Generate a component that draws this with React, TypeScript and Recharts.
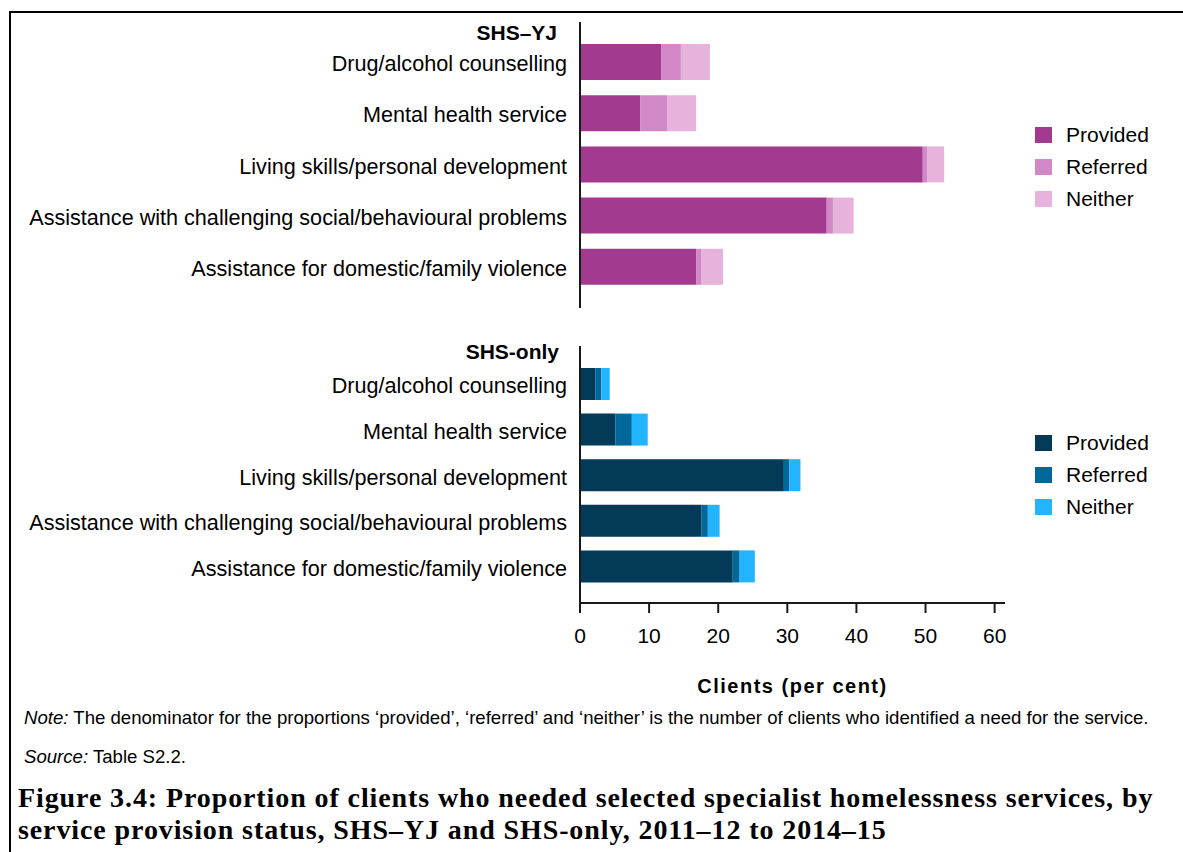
import { Bar, BarChart, Label, XAxis, YAxis } from 'recharts'

const categories = [
  'Drug/alcohol counselling',
  'Mental health service',
  'Living skills/personal development',
  'Assistance with challenging social/behavioural problems',
  'Assistance for domestic/family violence',
]

// SHS–YJ clients (per cent)
const yjProvided = [11.8, 8.7, 49.6, 35.7, 16.8]
const yjReferred = [2.8, 3.9, 0.7, 0.9, 0.8]
const yjNeither = [4.2, 4.2, 2.4, 3.0, 3.1]

// SHS-only clients (per cent)
const onlyProvided = [2.2, 5.1, 29.5, 17.6, 22.1]
const onlyReferred = [0.9, 2.4, 0.8, 0.9, 1.0]
const onlyNeither = [1.2, 2.3, 1.6, 1.7, 2.2]

const seriesKeys = ['provided', 'referred', 'neither']
const seriesNames = ['Provided', 'Referred', 'Neither']
const yjColors = ['#a23a8f', '#d288c6', '#e7b3dd']
const onlyColors = ['#023a57', '#02679b', '#22b4ff']
const xTicks = [0, 10, 20, 30, 40, 50, 60]

const FONT = '"Liberation Sans", Arial, sans-serif'

function buildRows(p: number[], r: number[], n: number[]) {
  return categories.map((name, i) => ({ name, provided: p[i], referred: r[i], neither: n[i] }))
}

const yjRows = buildRows(yjProvided, yjReferred, yjNeither)
const onlyRows = buildRows(onlyProvided, onlyReferred, onlyNeither)

function LegendBox({ colors, top }: { colors: string[]; top: number }) {
  return (
    <div style={{ position: 'absolute', left: 1035, top, fontFamily: FONT, fontSize: 21 }}>
      {seriesNames.map((name, i) => (
        <div key={name} style={{ display: 'flex', alignItems: 'center', height: 32 }}>
          <span style={{ width: 17, height: 16, background: colors[i], display: 'inline-block' }} />
          <span style={{ marginLeft: 14, color: '#000' }}>{name}</span>
        </div>
      ))}
    </div>
  )
}

const axisLine = { stroke: '#1a1a1a', strokeWidth: 2 }
const catTick = { fill: '#000', fontSize: 21.6, fontFamily: FONT, dy: 2 }
const numTick = { fill: '#000', fontSize: 21, fontFamily: FONT }

export default function App() {
  return (
    <div
      style={{
        position: 'absolute',
        left: 0,
        top: 0,
        width: 1183,
        height: 852,
        background: '#fff',
        overflow: 'hidden',
        fontFamily: FONT,
      }}
    >
      <div
        style={{
          position: 'absolute',
          left: 9,
          top: 11,
          width: 1200,
          height: 900,
          borderTop: '2px solid #000',
          borderLeft: '2px solid #000',
        }}
      />

      <div style={{ position: 'absolute', right: 626, top: 21, fontSize: 21, fontWeight: 'bold', lineHeight: '24px' }}>
        SHS–YJ
      </div>
      <div style={{ position: 'absolute', right: 624, top: 340, fontSize: 21, fontWeight: 'bold', lineHeight: '24px' }}>
        SHS-only
      </div>

      <div style={{ position: 'absolute', left: 0, top: 0 }}>
        <BarChart
          width={1183}
          height={320}
          data={yjRows}
          layout="vertical"
          margin={{ top: 22, right: 178, bottom: 12, left: 0 }}
          barSize={36}
        >
          <XAxis type="number" domain={[0, 61.5]} hide />
          <YAxis
            type="category"
            dataKey="name"
            width={580}
            padding={{ top: 14, bottom: 16 }}
            interval={0}
            tickLine={false}
            tickSize={0}
            tickMargin={13}
            axisLine={axisLine}
            tick={catTick}
          />
          {seriesKeys.map((k, i) => (
            <Bar key={k} dataKey={k} stackId="a" fill={yjColors[i]} isAnimationActive={false} />
          ))}
        </BarChart>
      </div>

      <div style={{ position: 'absolute', left: 0, top: 330 }}>
        <BarChart
          width={1183}
          height={380}
          data={onlyRows}
          layout="vertical"
          margin={{ top: 16, right: 178, bottom: 0, left: 0 }}
          barSize={32}
        >
          <XAxis
            type="number"
            domain={[0, 61.5]}
            ticks={xTicks}
            height={107}
            tickSize={10}
            tickMargin={15}
            axisLine={axisLine}
            tickLine={axisLine}
            tick={numTick}
          >
            <Label
              value="Clients (per cent)"
              position="insideBottom"
              offset={17}
              style={{ fill: '#000', fontSize: 20, fontWeight: 'bold', letterSpacing: 1.5, fontFamily: FONT }}
            />
          </XAxis>
          <YAxis
            type="category"
            dataKey="name"
            width={580}
            padding={{ top: 15, bottom: 14 }}
            interval={0}
            tickLine={false}
            tickSize={0}
            tickMargin={13}
            axisLine={axisLine}
            tick={catTick}
          />
          {seriesKeys.map((k, i) => (
            <Bar key={k} dataKey={k} stackId="a" fill={onlyColors[i]} isAnimationActive={false} />
          ))}
        </BarChart>
      </div>

      <LegendBox colors={yjColors} top={119} />
      <LegendBox colors={onlyColors} top={427} />

      <div style={{ position: 'absolute', left: 24, top: 707, fontSize: 18.6, lineHeight: '22px', whiteSpace: 'nowrap' }}>
        <i>Note:</i> The denominator for the proportions ‘provided’, ‘referred’ and ‘neither’ is the number of clients
        who identified a need for the service.
      </div>
      <div style={{ position: 'absolute', left: 24, top: 746, fontSize: 18.6, lineHeight: '22px' }}>
        <i>Source:</i> Table S2.2.
      </div>
      <div
        style={{
          position: 'absolute',
          left: 18,
          top: 782,
          fontFamily: '"Liberation Serif", serif',
          fontWeight: 'bold',
          fontSize: 28,
          letterSpacing: 0.9,
          lineHeight: '32px',
          whiteSpace: 'nowrap',
        }}
      >
        <div>Figure 3.4: Proportion of clients who needed selected specialist homelessness services, by</div>
        <div>service provision status, SHS–YJ and SHS-only, 2011–12 to 2014–15</div>
      </div>
    </div>
  )
}
